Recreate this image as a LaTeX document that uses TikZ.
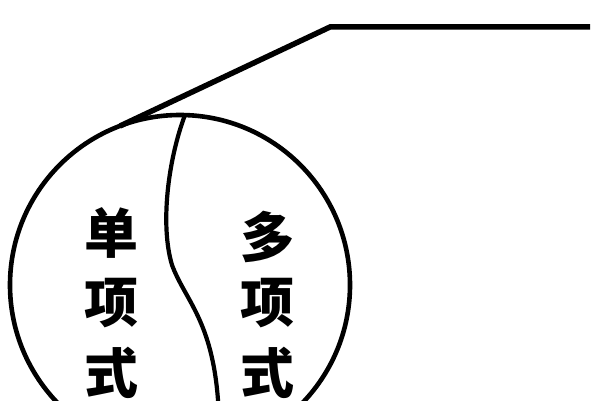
\documentclass[tikz,border=0pt]{standalone}
\usepackage{fontspec}
\newfontfamily\cjk{Noto Sans CJK SC}
\tikzset{
  zi/.style={inner sep=0pt, outer sep=0pt, font=\cjk\bfseries\fontsize{54}{54}\selectfont},
  rim/.style={line width=4.6pt},
}
\begin{document}
\begin{tikzpicture}[x=1pt,y=1pt]
\definecolor{drawColor}{RGB}{0,0,0}
\definecolor{fillColor}{RGB}{255,255,255}
\path[use as bounding box,fill=fillColor] (0,0) rectangle (600,400);
\begin{scope}
\path[clip] (0,0) rectangle (600,400);

\draw[rim,draw=drawColor] (180,115) circle (170);

\coordinate (top) at (185,285);
\coordinate (tip) at (120,274);
\coordinate (knee) at (330,373);
\coordinate (tail) at (590,373);
\path[draw=drawColor,line width=5.5pt,line join=miter] (tip) -- (knee) -- (tail);

\path[draw=drawColor,line width=4.2pt] (top) .. controls (168,240) and (160,175) ..
	(172,135) .. controls (185,100) and (212,80) .. (218,0) -- (221,-50);

\node[zi] (dan) at (111,167) {单};
\node[zi] (xiangA) at (111,97) {项};
\node[zi] (shiA) at (111,27) {式};

\node[zi] (duo) at (267,163) {多};
\node[zi] (xiangB) at (267,97) {项};
\node[zi] (shiB) at (267,27) {式};
\end{scope}
\end{tikzpicture}
\end{document}
